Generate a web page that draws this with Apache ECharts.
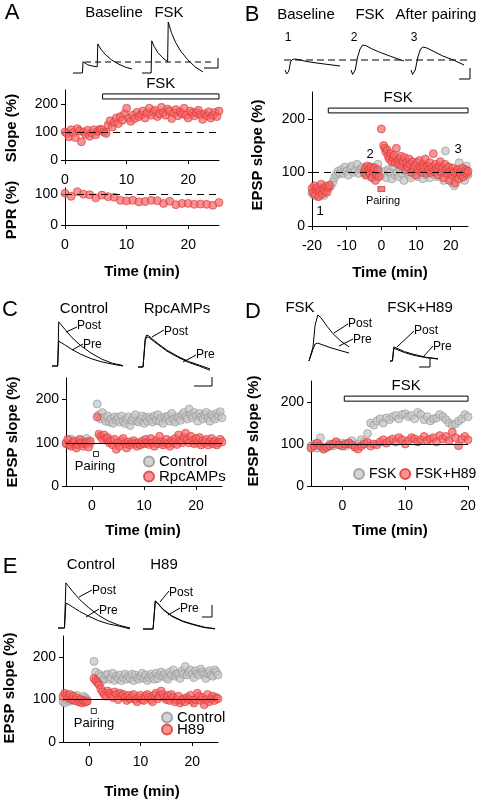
<!DOCTYPE html>
<html><head><meta charset="utf-8">
<script src="https://cdn.jsdelivr.net/npm/echarts@6/dist/echarts.min.js"></script>
<style>html,body{margin:0;padding:0;background:#fff}#c{width:482px;height:802px}</style>
</head><body><div id="c"></div>
<script>
// ---------- DATA ----------
const STEP3 = 1/3;
// Panel A
const aSlope = [100,95,83,108,98,80,112,104,65,100,92,106,85,97,108,90,102,110,108,
  100,95,125,140,118,135,
  150,130,155,142,165,185,150,138,160,148,170,155,
  162,175,150,168,185,160,172,178,155,165,188,170,160,182,175,148,168,180,158,172,165,185,160,150,175,168,158,170,178,162,145,165,158,172,150,160,170,155,175];
const aPPR = [103,93,108,100,98,88,97,92,90,80,78,80,75,76,80,79,70,77,66,70,70,67,68,67,64,73];
// Panel B
const bGray = [62,58,65,55,60,68,63,57,66,70,72,
  75,82,90,96,102,98,
  105,98,110,102,95,108,112,100,104,115,98,106,110,
  102,95,108,100,92,105,110,98,115,100,
  95,98,102,90,105,100,88,110,95,100,92,105,98,85,102,108,95,90,100,112,98,92,105,100,88,110,95,102,90,98,105,100,92,108,95,100,85,140,102,110,95,80,75,98,105,118,90,100,85,112,95];
const bRedBase = [70,62,75,58,68,72,55,65,78,60,70,66,74,63,72,76];
const bRedPre = [100,108,95,112,104,98,110,90,102,108,85,96,105,92];
const bRedSpike = [[0,181]];
const bRedPost = [150,145,138,142,130,125,135,120,128,132,118,145,122,115,125,130,112,120,128,105,
  118,110,125,115,100,120,108,112,95,118,105,122,110,100,115,108,125,98,112,105,
  118,100,110,135,102,115,108,95,112,120,100,108,90,115,105,98,110,85,102,95,
  108,100,80,98,105,88,100,95,108,92,100,105,98,102];
// Panel C
const cCtrlPre = [100,96,104,108,98,95,102,100,97,105,99,103,110,101,98];
const cCtrlSpike = [[1,190]];
const cCtrlPost = [165,155,170,158,150,162,148,155,145,160,152,158,148,162,150,145,155,160,140,152,
  158,165,150,148,155,162,145,158,150,160,155,148,162,152,165,150,158,145,160,155,
  162,150,168,155,148,160,158,152,165,170,160,155,178,165,158,170,162,150,168,160,
  155,165,170,158,150,165,160,155,168,162,172,158];
const cRpcPre = [98,108,95,92,100,104,88,96,108,100,92,98,102,90,104];
const cRpcSpike = [[1,160]];
const cRpcPost = [120,115,108,118,110,112,100,105,95,108,85,100,92,105,110,98,88,102,95,100,
  105,98,92,100,95,104,98,108,100,96,110,100,92,105,98,115,102,95,100,108,
  98,92,105,100,110,96,118,105,100,112,122,108,100,115,105,98,110,100,112,95,
  105,100,108,95,102,110,98,104,95,100,108,102];
// Panel D
const dFsk = [95,100,90,115,88,92,100,95,105,98,102,95,100,108,96,100,110,105,
  125,150,
  145,155,160,150,162,158,165,168,160,170,172,165,168,160,175,170,158,165,155,160,162,170,165,158,150,145,148,155,160,170,165];
const dH89 = [90,96,102,95,88,92,96,100,105,98,95,100,103,98,92,88,95,100,
  104,95,100,98,105,110,102,108,112,105,115,110,100,108,115,112,105,110,118,108,112,115,105,120,112,118,108,128,115,96,112,118,110];
// Panel E
const eCtrlPre = [95,92,100,108,96,100,105,98,110,102,95,100,108,104,100];
const eCtrlSpike = [[1,190]];
const eCtrlPost = [165,150,160,155,145,150,158,160,148,152,162,145,155,150,158,145,152,160,148,155,
  150,160,145,158,152,148,155,162,150,158,145,152,160,155,148,162,150,158,165,155,
  160,152,148,165,158,170,155,160,162,150,168,160,178,158,165,170,160,152,168,162,
  158,172,165,160,150,162,168,158,155,170,165,158];
const eH89Pre = [108,115,110,104,112,100,108,98,104,95,100,92,98,94,96];
const eH89Spike = [[1,150]];
const eH89Post = [145,140,135,125,118,112,108,120,115,110,105,118,112,100,115,108,112,105,98,110,
  102,108,112,100,95,105,110,100,98,108,112,105,100,95,110,115,102,108,120,112,
  105,100,110,98,112,105,95,100,108,92,98,102,95,105,100,110,98,92,100,115,
  108,98,105,88,100,112,95,102,108,98,105,102];
// Pairing markers [time, value]
const bPairing = [[0,69]];
const cPairing = [[0.77,74]];
const ePairing = [[0.97,73]];
// FSK bars [xStart, xEnd, yLow, yHigh]
const aFskBar = [6.1,25,218,236];
const bFskBar = [-15.3,25,211,220];
const dFskBar = [0.3,20,202,214];
// Traces [x (% sweep), amplitude]
const trA_base = [[0,0],[16,0],[17,0.22],[20,0.19],[25,0.16],[32,0.14],[41,0.12],[42,0.57],[47,0.47],[55,0.36],[65,0.26],[78,0.17],[90,0.11],[100,0.08]];
const trA_fsk = [[0,0],[15,0],[16,0.63],[20,0.52],[26,0.4],[34,0.3],[42,0.22],[43,1.0],[48,0.8],[55,0.6],[64,0.42],[75,0.26],[87,0.12],[100,0.02]];
const trB1 = [[0,-0.5],[3,-0.7],[5,-0.75],[7,-0.55],[10,-0.1],[13,0.02],[18,0.05],[25,0.02],[40,-0.08],[60,-0.16],[80,-0.23],[100,-0.3]];
const trB2 = [[0,-0.5],[3,-0.72],[5,-0.75],[8,-0.5],[12,0.1],[17,0.55],[22,0.75],[28,0.72],[40,0.55],[55,0.38],[75,0.18],[100,-0.05]];
const trB3 = [[0,-0.5],[3,-0.72],[5,-0.75],[8,-0.5],[13,0.15],[18,0.55],[23,0.65],[30,0.6],[45,0.4],[60,0.2],[80,0.0],[100,-0.25]];
const trC_ctrlPost = [[0,0],[8,0],[9.5,0.96],[12,0.92],[18,0.8],[28,0.62],[40,0.45],[55,0.28],[70,0.15],[85,0.06],[100,0.01]];
const trC_ctrlPre = [[0,0],[8,0],[9.5,0.54],[12,0.52],[18,0.46],[28,0.36],[40,0.26],[55,0.16],[70,0.09],[85,0.04],[100,0.0]];
const trC_rpcPost = [[0,0],[7,0],[10,0.6],[12,0.68],[15,0.66],[25,0.53],[40,0.36],[55,0.23],[70,0.12],[85,0.04],[100,-0.04]];
const trC_rpcPre = [[0,0],[7,0],[10,0.56],[12,0.64],[15,0.63],[25,0.51],[40,0.34],[55,0.21],[70,0.1],[85,0.02],[100,-0.07]];
const trD_fskPost = [[0,0],[5,0],[10,0.3],[15,0.75],[22,0.98],[30,0.92],[45,0.74],[60,0.58],[80,0.42],[100,0.3]];
const trD_fskPre = [[0,0],[5,0],[10,0.25],[15,0.36],[22,0.38],[35,0.34],[55,0.28],[75,0.23],[100,0.17]];
const trD_h89Post = [[0,0],[5,0],[8,0.3],[12,0.28],[30,0.2],[50,0.14],[75,0.08],[100,0.04]];
const trD_h89Pre = [[0,0],[5,0],[8,0.27],[12,0.26],[30,0.18],[50,0.12],[75,0.07],[100,0.05]];
const trE_ctrlPost = [[0,0],[9,0],[11,0.98],[14,0.92],[20,0.8],[30,0.62],[42,0.45],[56,0.28],[70,0.15],[85,0.06],[100,0.0]];
const trE_ctrlPre = [[0,0],[9,0],[11,0.54],[14,0.52],[20,0.46],[30,0.36],[42,0.26],[56,0.16],[70,0.09],[85,0.04],[100,-0.02]];
const trE_h89Post = [[0,0],[14,0],[17,0.6],[20,0.56],[28,0.42],[40,0.28],[55,0.17],[70,0.1],[85,0.04],[100,0.0]];
const trE_h89Pre = [[0,0],[14,0],[17,0.58],[20,0.55],[28,0.41],[40,0.27],[55,0.16],[70,0.09],[85,0.03],[100,0.01]];

// ---------- BUILD ----------
const FONT = '"Liberation Sans", Arial, Helvetica, sans-serif';
const seq = (start, step, vals) => vals.map((v,i)=>[+(start+i*step).toFixed(3), v]);
const RED = {color:'rgba(246,100,100,0.88)', borderColor:'#d83434', borderWidth:0.8};
const GRAY = {color:'rgba(196,196,196,0.92)', borderColor:'#929292', borderWidth:0.8};

const grid = [], xAxis = [], yAxis = [], series = [];
function mainPlot(g, xr, xt, yr, yt){
  grid.push({left:g[0], top:g[1], width:g[2], height:g[3], containLabel:false});
  const gi = grid.length-1;
  xAxis.push({type:'value', gridIndex:gi, min:xr[0], max:xr[1], splitLine:{show:false},
    axisLine:{show:true, onZero:false, lineStyle:{color:'#000', width:1}},
    axisTick:{show:true, length:4, customValues:xt, lineStyle:{color:'#000'}},
    axisLabel:{customValues:xt, margin:13, fontSize:14, color:'#000', fontFamily:FONT}});
  yAxis.push({type:'value', gridIndex:gi, min:yr[0], max:yr[1], splitLine:{show:false},
    axisLine:{show:true, onZero:false, lineStyle:{color:'#000', width:1}},
    axisTick:{show:true, length:4, customValues:yt, lineStyle:{color:'#000'}},
    axisLabel:{customValues:yt, margin:7, fontSize:14, color:'#000', fontFamily:FONT}});
  return gi;
}
function tracePlot(g, yr){
  grid.push({left:g[0], top:g[1], width:g[2], height:g[3]});
  const gi = grid.length-1;
  xAxis.push({type:'value', gridIndex:gi, min:0, max:100, show:false});
  yAxis.push({type:'value', gridIndex:gi, min:yr[0], max:yr[1], show:false});
  return gi;
}
function sc(name, gi, data, style, z){
  series.push({type:'scatter', name, xAxisIndex:gi, yAxisIndex:gi, data, symbolSize:8,
    itemStyle:style, z, animation:false, silent:true});
}
function tr(gi, data){
  series.push({type:'line', xAxisIndex:gi, yAxisIndex:gi, data, showSymbol:false, symbol:'none',
    clip:false, lineStyle:{color:'#000', width:1}, z:2, animation:false, silent:true});
}
function refs(gi, dashed, bar){
  const s = {type:'scatter', xAxisIndex:gi, yAxisIndex:gi, data:[], z:1, animation:false, silent:true,
    markLine:{silent:true, symbol:'none', label:{show:false}, animation:false,
      lineStyle:{color:'#000', width:1, type: dashed ? [7,5] : 'solid'}, data:[{yAxis:100}]}};
  if (bar) s.markArea = {silent:true, animation:false,
    itemStyle:{color:'#fff', borderColor:'#000', borderWidth:1},
    label:{show:true, position:'top', distance:2, fontSize:15, color:'#000', fontFamily:FONT},
    data:[[{name:'FSK', xAxis:bar[0], yAxis:bar[2]},{xAxis:bar[1], yAxis:bar[3]}]]};
  series.push(s);
}

// A
const gA = mainPlot([65,90,154,70],[0,25],[0,10,20],[0,250],[0,100,200]);
refs(gA, true, aFskBar);
sc('A slope', gA, seq(0, STEP3, aSlope), RED, 3);
const gA2 = mainPlot([65,188,154,37],[0,25],[0,10,20],[0,120],[0,100]);
refs(gA2, true, null);
sc('A PPR', gA2, seq(0, 1, aPPR), RED, 3);
// B
const gB = mainPlot([312,92,156,134],[-20,25],[-20,-10,0,10,20],[0,250],[0,100,200]);
refs(gB, true, bFskBar);
sc('B gray', gB, seq(-20, 0.5, bGray), GRAY, 2);
sc('B red', gB, seq(-20, STEP3, bRedBase).concat(seq(-5, STEP3, bRedPre), bRedSpike, seq(0.67, STEP3, bRedPost)), RED, 3);
series.push({type:'scatter', xAxisIndex:gB, yAxisIndex:gB, data:bPairing, symbol:'rect', symbolSize:[7,5],
  itemStyle:{color:'#f06060', borderColor:'#c02020', borderWidth:0.8}, z:4, animation:false, silent:true});
// C
const gC = mainPlot([66,378,156,108],[-5,25],[0,10,20],[0,250],[0,100,200]);
refs(gC, false, null);
sc('Control', gC, seq(-5, STEP3, cCtrlPre).concat(cCtrlSpike, seq(1.33, STEP3, cCtrlPost)), GRAY, 2);
sc('RpcAMPs', gC, seq(-5, STEP3, cRpcPre).concat(cRpcSpike, seq(1.33, STEP3, cRpcPost)), RED, 3);
series.push({type:'scatter', xAxisIndex:gC, yAxisIndex:gC, data:cPairing, symbol:'rect', symbolSize:5,
  itemStyle:{color:'#fff', borderColor:'#000', borderWidth:1}, z:4, animation:false, silent:true});
// D
const gD = mainPlot([311,381,157,105],[-5,20],[0,10,20],[0,250],[0,100,200]);
refs(gD, false, dFskBar);
sc('FSK', gD, seq(-5, 0.5, dFsk), GRAY, 2);
sc('FSK+H89', gD, seq(-5, 0.5, dH89), RED, 3);
// E
const gE = mainPlot([63,636,155,106],[-5,25],[0,10,20],[0,250],[0,100,200]);
refs(gE, false, null);
sc('Control', gE, seq(-5, STEP3, eCtrlPre).concat(eCtrlSpike, seq(1.33, STEP3, eCtrlPost)), GRAY, 2);
sc('H89', gE, seq(-5, STEP3, eH89Pre).concat(eH89Spike, seq(1.33, STEP3, eH89Post)), RED, 3);
series.push({type:'scatter', xAxisIndex:gE, yAxisIndex:gE, data:ePairing, symbol:'rect', symbolSize:5,
  itemStyle:{color:'#fff', borderColor:'#000', borderWidth:1}, z:4, animation:false, silent:true});

// traces
let t;
t = tracePlot([73,22,59,51],[0,1]); tr(t, trA_base);
t = tracePlot([142,22,61,51],[0,1]); tr(t, trA_fsk);
t = tracePlot([285,40,55,40],[-1,1]); tr(t, trB1);
t = tracePlot([351,40,53,40],[-1,1]); tr(t, trB2);
t = tracePlot([411,40,53,40],[-1,1]); tr(t, trB3);
t = tracePlot([52,320,71,46],[0,1]); tr(t, trC_ctrlPost); tr(t, trC_ctrlPre);
t = tracePlot([138,320,72,47],[0,1]); tr(t, trC_rpcPost); tr(t, trC_rpcPre);
t = tracePlot([309,314,40,47],[0,1]); tr(t, trD_fskPost); tr(t, trD_fskPre);
t = tracePlot([390,314,48,47],[0,1]); tr(t, trD_h89Post); tr(t, trD_h89Pre);
t = tracePlot([58,582,72,46],[0,1]); tr(t, trE_ctrlPost); tr(t, trE_ctrlPre);
t = tracePlot([143,582,72,47],[0,1]); tr(t, trE_h89Post); tr(t, trE_h89Pre);

// ---------- ANNOTATIONS ----------
function T(x,y,text,size,o){ o=o||{};
  return {type:'text', x, y, rotation:o.rot||0, silent:true, z:10,
    style:{text, fill:'#000', fontSize:size, fontFamily:FONT, fontWeight:o.bold?'bold':'normal',
      align:o.align||'center', verticalAlign:'middle'}}; }
function L(x1,y1,x2,y2,dash){
  return {type:'line', silent:true, z:10, shape:{x1,y1,x2,y2},
    style:{stroke:'#000', lineWidth:1, lineDash:dash||null}}; }
const R = Math.PI/2;
const graphic = [
  T(12,13,'A',22), T(252,15,'B',22), T(10,310,'C',22), T(253,312,'D',22), T(10,567,'E',22),
  T(114,13,'Baseline',15), T(169,13,'FSK',15),
  T(306,15,'Baseline',15), T(370,15,'FSK',15), T(436,15,'After pairing',15),
  T(84,309,'Control',15), T(177,309,'RpcAMPs',15),
  T(300,308,'FSK',15), T(420,308,'FSK+H89',15),
  T(91,565,'Control',15), T(164,565,'H89',15),
  T(288,38,'1',12), T(354,38,'2',12), T(414,38,'3',12),
  T(320,211,'1',13), T(370,154,'2',13), T(458,149,'3',13),
  T(383,201,'Pairing',11), T(95,466,'Pairing',13), T(94,723,'Pairing',13),
  // axis titles
  T(12,128,'Slope (%)',15,{bold:1,rot:R}), T(12,210,'PPR (%)',15,{bold:1,rot:R}),
  T(258,155,'EPSP slope (%)',15,{bold:1,rot:R}), T(13,432,'EPSP slope (%)',15,{bold:1,rot:R}),
  T(254,431,'EPSP slope (%)',15,{bold:1,rot:R}), T(10,688,'EPSP slope (%)',15,{bold:1,rot:R}),
  T(142,272,'Time (min)',15,{bold:1}), T(390,273,'Time (min)',15,{bold:1}),
  T(143,531,'Time (min)',15,{bold:1}), T(390,531,'Time (min)',15,{bold:1}),
  T(142,792,'Time (min)',15,{bold:1}),
  // Post / Pre
  T(77,326,'Post',12,{align:'left'}), T(83,345,'Pre',12,{align:'left'}),
  T(164,332,'Post',12,{align:'left'}), T(196,355,'Pre',12,{align:'left'}),
  T(348,324,'Post',12,{align:'left'}), T(353,340,'Pre',12,{align:'left'}),
  T(414,331,'Post',12,{align:'left'}), T(433,347,'Pre',12,{align:'left'}),
  T(92,591,'Post',12,{align:'left'}), T(99,611,'Pre',12,{align:'left'}),
  T(169,593,'Post',12,{align:'left'}), T(180,609,'Pre',12,{align:'left'}),
  // leaders
  L(77,327,66,332), L(83,344,72,350), L(164,330,152,337), L(196,355,183,362),
  L(348,324,334,333), L(353,339,339,346), L(414,331,397,347), L(433,346,423,357),
  L(92,590,79,597), L(99,609,86,617), L(169,591,160,602), L(180,608,168,615),
  // dashed trace baselines
  L(85,62,215,62,[6,4]), L(284,60,468,60,[7,4]),
  // scale bars
  L(218,58,218,68), L(204,68,218,68),
  L(470,68,470,79), L(459,79,470,79),
  L(212,377,212,386), L(194,386,212,386),
  L(430,358,430,367), L(419,367,430,367),
  L(212,605,212,617), L(202,617,212,617)
];

const legTxt = {fontSize:15, color:'#000', fontFamily:FONT};
const legTxtD = {fontSize:14, color:'#000', fontFamily:FONT};
const option = {
  animation:false, backgroundColor:'#fff',
  grid, xAxis, yAxis, series, graphic,
  legend:[
    {data:['Control','RpcAMPs'], left:143, top:454, orient:'vertical', icon:'circle', itemWidth:10, itemHeight:10, itemGap:0, padding:0, textStyle:legTxt, selectedMode:false},
    {data:['FSK','FSK+H89'], left:353, top:467, width:129, orient:'horizontal', icon:'circle', itemWidth:10, itemHeight:10, itemGap:3, padding:0, textStyle:legTxtD, selectedMode:false},
    {data:['Control','H89'], left:161, top:710, orient:'vertical', icon:'circle', itemWidth:10, itemHeight:10, itemGap:-3, padding:0, textStyle:legTxt, selectedMode:false}
  ]
};
const chart = echarts.init(document.getElementById('c'), null, {renderer:'canvas'});
chart.setOption(option);
</script></body></html>
